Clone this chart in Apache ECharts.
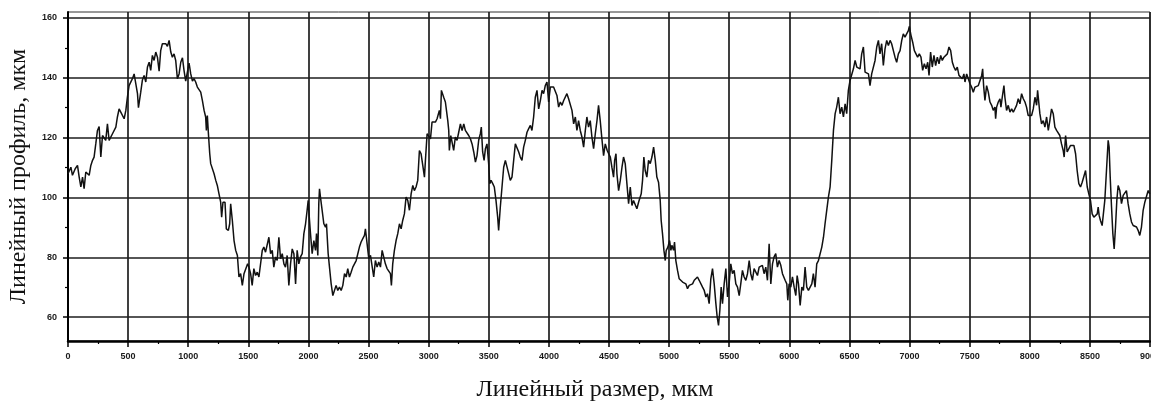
<!DOCTYPE html>
<html>
<head>
<meta charset="utf-8">
<script src="https://cdn.jsdelivr.net/npm/echarts@6/dist/echarts.min.js"></script>
<style>
html,body{margin:0;padding:0;background:#fff;}
#chart{width:1151px;height:407px;}
</style>
</head>
<body>
<div id="chart"></div>
<script>
// Linear position along the profile, µm
const positions = [
0,24,37,60,79,93,107,121,134,148,162,176,190,204,217,231,245,259,273,287,301,314,328,342,356,370,384,398,411,425,439,453,467,481,494,508,522,536,550,564,578,586,605,619,633,647,661,675,688,702,716,730,744,758,771,785,799,813,827,841,855,868,882,896,910,924,938,952,965,979,993,1007,1021,1035,1048,1062,1076,1090,1104,1118,1132,1145,1151,1159,1168,1179,1187,1201,1215,1229,1242,1256,1270,1278,1289,1306,1317,1334,1345,1353,1367,1381,1395,1409,1422,1436,1450,1464,1478,1494,
1505,1519,1532,1546,1560,1574,1588,1602,1616,1629,1643,1657,1671,1685,1699,1712,1726,1740,1754,1768,1782,1796,1809,1823,1837,1851,1865,1879,1893,1906,1920,1934,1948,1962,1976,1989,1998,2009,2017,2031,2045,2059,2067,2078,2086,2092,2100,2114,2128,2142,2150,2164,2175,2189,2203,2217,2230,2244,2258,2272,2286,2300,2314,2327,2341,2355,2369,2383,2397,2410,2424,2438,2452,2466,2474,2488,2502,2516,2530,2543,2557,2571,2585,2599,2613,2627,2640,2654,2668,2682,2690,2701,2715,2729,2743,2757,2771,2784,2798,2812,2826,2840,2854,2868,2881,2895,2909,2923,2937,2951,2965,2973,2987,
3001,3015,3028,3042,3056,3070,3084,3089,3098,3106,3117,3125,3139,3148,3159,3167,3172,3184,3195,3208,3222,3236,3250,3264,3278,3292,3305,3319,3333,3347,3361,3375,3389,3402,3416,3430,3438,3449,3461,3472,3485,3499,3508,3519,3533,3546,3560,3574,3582,3596,3610,3624,3638,3652,3666,3679,3693,3707,3721,3735,3749,3762,3776,3790,3804,3818,3832,3846,3859,3873,3887,3901,3915,3929,3943,3956,3970,3984,3998,4012,4026,4039,4053,4067,4081,4095,4109,4123,4136,4150,4164,4178,4192,4206,4220,4233,4247,4261,4275,4289,4303,4316,4330,4344,4358,4372,4386,4400,4413,4427,4441,4455,4469,4485,
4497,4511,4524,4538,4547,4558,4566,4580,4594,4608,4621,4635,4649,4663,4677,4691,4704,4718,4732,4746,4760,4768,4779,4790,4801,4815,4829,4843,4857,4871,4885,4898,4912,4926,4934,4945,4957,4968,4976,4990,5004,5015,5023,5037,5045,5056,5070,5084,5098,5112,5125,5139,5153,5167,5181,5195,5209,5222,5236,5250,5264,5278,5292,5306,5319,5333,5347,5361,5375,5389,5400,5411,5422,5433,5444,5458,5472,5486,5499,5513,5527,5541,5555,5569,5583,5596,5610,5624,5638,5652,5666,5679,5693,5707,5721,5735,5749,5763,5776,5790,5804,5818,5832,5846,5860,5873,5887,5901,5915,5929,5943,5956,
5965,5979,5987,5998,6012,6026,6040,6054,6065,6076,6090,6104,6117,6131,6145,6159,6173,6187,6200,6214,6228,6242,6256,6270,6284,6297,6311,6325,6339,6353,6367,6381,6394,6408,6422,6436,6450,6464,6477,6491,6505,6519,6533,6547,6561,6574,6588,6602,6616,6630,6644,6658,6671,6685,6699,6713,6727,6741,6754,6768,6782,6796,6810,6824,6838,6851,6865,6879,6893,6907,6921,6935,6948,6962,6976,6990,6998,7012,7026,7040,7054,7067,7081,7095,7109,7123,7137,7151,7162,7175,7189,7203,7217,7231,7245,7259,7272,7286,7300,7314,7328,7342,7356,7369,7383,7397,7411,7425,7439,7452,
7461,7475,7489,7503,7516,7530,7544,7558,7572,7586,7600,7608,7616,7627,7641,7655,7669,7683,7696,7710,7716,7724,7738,7752,7760,7771,7785,7793,7807,7821,7835,7849,7863,7877,7890,7904,7918,7932,7946,7960,7973,7987,8001,8015,8029,8043,8057,8065,8076,8084,8098,8112,8126,8140,8154,8167,8181,8195,8209,8223,8237,8250,8264,8278,8286,8298,8311,8325,8339,8353,8367,8381,8394,8408,8422,8436,8450,8464,8478,8491,8505,8519,8533,8547,8561,8569,8577,8588,8602,8613,8624,8638,8652,8660,8669,8680,8691,8702,8713,8724,8735,8749,8763,8777,8791,8804,8818,8832,8846,8860,8874,8888,8901,8915,8929,8943,8957,8971,8985,8998
];
// Linear profile height, µm
const profile = [
107.9,110.1,107.4,109.6,110.7,106.8,103.5,106.8,102.9,108.5,107.9,107.4,110.7,112.4,113.5,117.9,122.4,123.7,113.5,120.7,120.2,119.1,124.6,119.1,118.5,121.3,121.8,123.5,126.9,129.6,128.5,129.1,126.3,129.1,133.5,137.4,138.0,139.7,141.3,141.9,134.7,130.0,135.2,139.3,140.8,138.6,143.6,145.2,142.5,147.5,145.8,148.6,146.9,142.2,149.1,151.4,151.9,151.4,150.5,152.5,148.6,146.9,148.0,145.8,139.7,141.3,145.2,146.7,142.5,138.9,138.6,144.9,141.3,138.9,139.7,138.6,136.9,137.4,135.2,132.4,129.1,126.9,122.4,127.4,121.3,114.6,111.3,111.0,107.9,105.7,104.0,101.2,98.4,93.4,98.4,98.4,89.5,89.0,91.2,97.9,92.3,85.6,82.3,80.6,73.4,74.5,70.6,74.5,75.0,77.8,
76.7,74.5,70.6,76.2,73.9,75.0,73.4,72.8,82.3,83.4,81.7,82.3,86.7,81.2,82.3,76.7,80.1,78.9,86.7,79.5,81.2,77.8,76.7,80.6,70.6,77.8,82.8,81.2,71.1,82.3,77.8,80.1,81.2,87.9,91.2,95.7,99.0,92.3,87.9,81.2,85.6,82.3,87.9,80.6,97.9,102.9,100.1,95.7,91.2,90.1,91.2,81.2,76.7,71.1,67.2,66.7,70.6,68.9,70.0,68.9,70.6,74.5,73.4,76.2,73.4,75.0,76.7,76.7,78.9,79.5,83.4,85.1,86.2,87.3,89.5,84.5,79.5,80.6,80.1,73.4,78.9,76.7,78.4,76.7,82.3,82.8,77.8,76.2,76.7,74.5,70.6,77.8,82.3,85.6,87.9,91.2,89.5,92.3,94.5,100.1,99.0,95.7,101.2,104.0,102.3,103.5,105.7,115.7,114.6,110.7,106.8,112.4,121.3,
120.7,119.6,125.2,125.7,125.2,126.3,125.7,129.1,126.3,135.8,135.2,133.5,131.9,132.4,125.7,122.4,115.7,120.7,120.2,115.7,120.2,119.1,121.8,124.6,122.4,124.6,122.4,122.4,120.7,119.6,117.9,115.2,111.8,114.0,119.1,121.3,123.5,115.2,112.4,116.3,117.9,111.3,104.6,105.7,104.6,103.5,99.0,93.4,89.0,96.8,103.5,110.1,112.4,112.9,107.9,105.7,106.8,112.4,117.9,118.5,115.2,113.5,112.4,116.8,119.1,121.8,123.0,124.1,122.4,126.9,133.5,135.8,129.6,132.4,135.8,134.7,137.4,138.6,131.9,136.9,136.3,136.9,136.3,134.1,130.2,131.9,130.8,132.4,132.4,134.7,133.0,132.4,129.1,124.6,126.9,122.4,125.7,122.4,120.2,116.8,122.4,126.9,123.5,125.7,120.2,116.3,121.3,125.7,130.8,125.7,119.6,114.0,117.9,115.7,
116.3,113.5,110.1,106.8,112.4,114.6,107.9,102.3,105.7,110.1,113.5,111.3,104.6,97.9,103.5,97.3,99.0,98.4,96.2,98.4,97.9,101.2,105.7,113.5,109.0,106.8,112.4,111.3,113.5,116.8,112.4,106.8,105.1,99.0,92.3,87.9,82.3,78.9,82.3,83.4,85.6,82.3,84.0,82.3,85.1,78.9,75.6,72.8,72.8,71.7,71.1,71.1,69.5,70.6,70.6,71.1,72.3,72.8,73.4,72.3,72.8,70.0,68.9,66.7,67.8,64.5,72.8,76.2,71.1,64.5,60.0,57.2,62.2,70.0,64.5,71.1,76.2,66.7,71.1,77.8,74.5,75.6,71.1,70.0,67.2,71.1,75.6,73.4,72.3,74.5,78.9,74.5,72.3,76.2,76.7,73.9,76.7,76.2,77.3,74.5,76.7,72.3,84.5,71.1,77.8,80.1,81.2,76.7,78.9,77.3,74.5,74.5,
72.3,71.1,65.6,71.1,70.0,73.4,70.0,67.2,73.9,71.1,63.9,70.0,68.9,76.7,70.0,68.9,70.0,71.1,74.5,70.0,77.8,78.9,79.5,83.4,86.7,91.2,95.7,100.1,103.5,112.4,122.4,128.0,130.2,133.5,128.0,130.2,126.9,131.3,128.0,135.8,139.1,138.6,143.0,145.8,143.6,143.0,143.0,148.0,150.3,141.9,142.5,141.3,137.4,141.3,141.3,145.8,150.3,152.5,148.0,151.4,144.1,149.7,152.5,150.8,152.5,151.4,151.9,146.9,145.2,148.0,149.1,152.5,154.7,153.6,154.2,155.8,157.2,154.2,151.9,149.1,148.6,146.9,148.0,146.9,142.5,144.7,143.0,145.2,140.8,148.6,143.6,147.5,144.1,146.9,144.7,147.5,145.8,146.9,146.4,148.0,150.3,149.1,145.2,143.6,142.5,143.6,140.8,141.3,139.7,141.3,
138.6,141.3,140.8,138.0,136.9,135.2,136.9,136.3,137.4,136.9,140.8,143.0,137.4,132.4,137.4,135.2,131.9,130.8,129.1,130.2,126.3,130.2,131.9,133.0,130.2,133.5,137.4,133.5,129.1,130.8,128.5,129.6,128.5,128.5,130.8,133.0,131.3,134.7,133.0,131.9,130.2,127.4,128.0,127.4,129.6,133.5,130.8,135.8,136.3,128.0,124.6,125.7,123.5,126.9,122.4,125.7,129.6,128.0,123.5,122.4,122.4,120.7,117.9,115.7,113.5,120.7,115.2,115.7,117.4,117.9,117.4,114.6,109.0,104.6,103.5,105.1,105.1,109.0,103.5,101.2,99.0,94.5,93.4,92.9,94.5,96.8,94.0,92.3,90.6,91.2,99.0,109.0,119.1,116.8,106.8,96.8,87.9,82.8,90.1,99.0,104.0,102.3,97.9,100.7,100.7,102.3,97.9,94.5,91.8,90.6,90.1,90.1,89.0,87.3,90.1,95.7,98.4,99.0,102.3,101.2
];
const yTicks = [60, 80, 100, 120, 140, 160];
const yMinorTicks = [70, 90, 110, 130, 150];
const xTitle = 'Линейный размер, мкм';
const yTitle = 'Линейный профиль, мкм';

const seriesData = positions.map((x, i) => [x, profile[i]]);

const chart = echarts.init(document.getElementById('chart'), null, {renderer: 'canvas'});
const labelStyle = {fontFamily: 'Liberation Sans', fontSize: 9, fontWeight: 'bold', color: '#1a1a1a'};
chart.setOption({
  animation: false,
  backgroundColor: '#ffffff',
  grid: {left: 68, right: 1, top: 12, bottom: 66, show: true, borderColor: '#333', borderWidth: 1,
         backgroundColor: 'transparent', containLabel: false, outerBoundsMode: 'none'},
  xAxis: {
    type: 'value', min: 0, max: 9000, interval: 500,
    name: xTitle, nameLocation: 'middle', nameGap: 37,
    nameTextStyle: {fontFamily: 'Liberation Serif', fontSize: 24, color: '#111', padding: [0, 28, 0, 0]},
    axisLine: {show: true, lineStyle: {color: '#000', width: 2.5}},
    axisTick: {show: true, inside: false, length: 6, lineStyle: {color: '#000', width: 1.5}},
    minorTick: {show: true, splitNumber: 2, length: 3, lineStyle: {color: '#000', width: 1.2}},
    axisLabel: Object.assign({margin: 11, formatter: v => String(v)}, labelStyle),
    splitLine: {show: true, lineStyle: {color: '#1e1e1e', width: 1.7}},
    minorSplitLine: {show: false}
  },
  yAxis: [{
    type: 'value', min: 52, max: 162,
    name: yTitle, nameLocation: 'middle', nameGap: 37,
    nameTextStyle: {fontFamily: 'Liberation Serif', fontSize: 24, color: '#111'},
    axisLine: {show: true, lineStyle: {color: '#000', width: 2}},
    axisTick: {show: true, inside: false, length: 5, customValues: yTicks, lineStyle: {color: '#000', width: 1.5}},
    axisLabel: Object.assign({margin: 11, customValues: yTicks}, labelStyle),
    splitLine: {show: true, lineStyle: {color: '#1e1e1e', width: 1.7}}
  }, {
    type: 'value', min: 52, max: 162, position: 'left',
    axisLine: {show: false},
    axisTick: {show: true, inside: false, length: 3, customValues: yMinorTicks, lineStyle: {color: '#000', width: 1.2}},
    axisLabel: {show: false},
    splitLine: {show: false}
  }],
  series: [{
    type: 'line', yAxisIndex: 0, data: seriesData,
    showSymbol: false, smooth: false,
    lineStyle: {color: '#111', width: 1.5}
  }]
});
</script>
</body>
</html>
